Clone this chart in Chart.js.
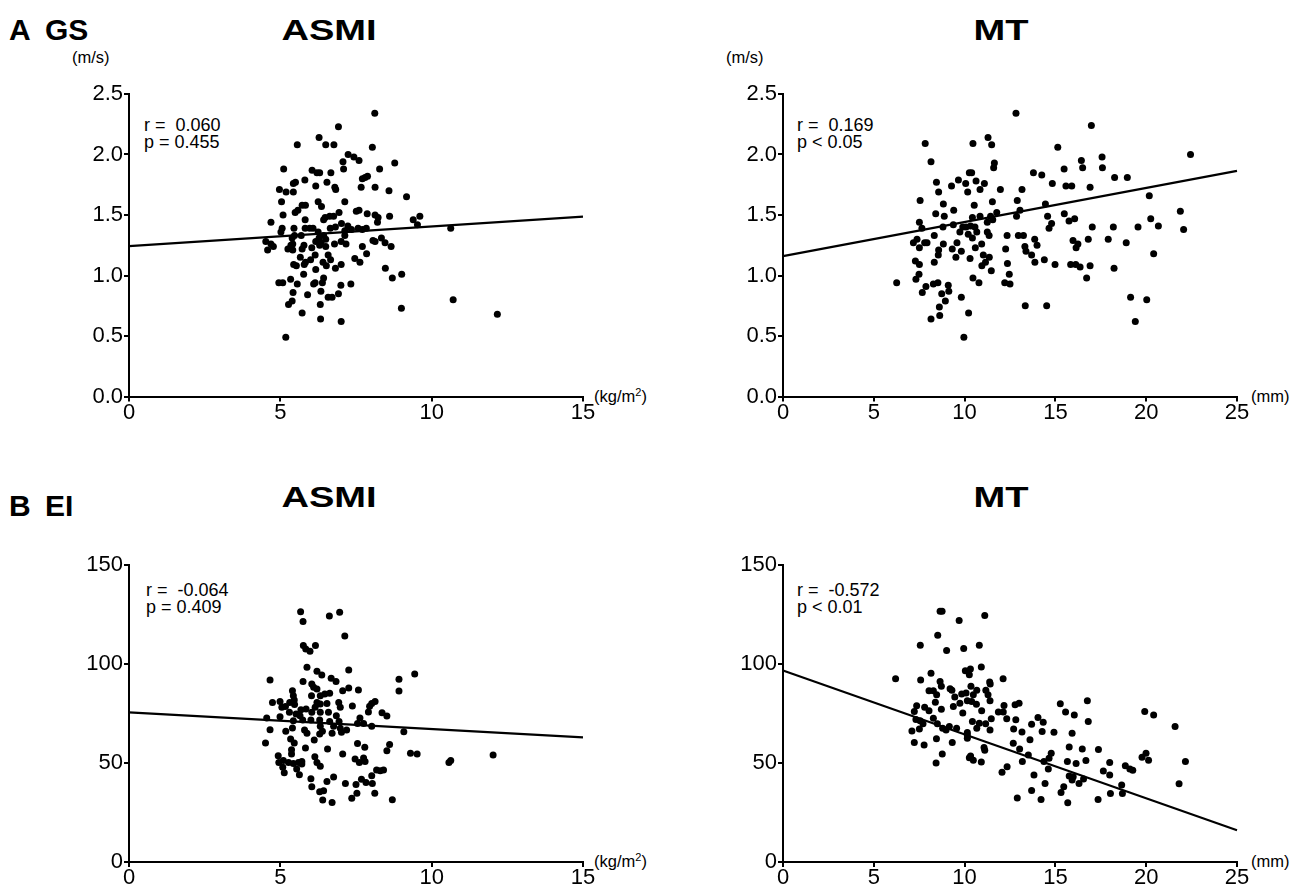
<!DOCTYPE html>
<html><head><meta charset="utf-8">
<script src="https://cdn.jsdelivr.net/npm/chart.js@4.4.1/dist/chart.umd.min.js"></script>
<style>
body{margin:0;width:1300px;height:890px;background:#fff;position:relative;font-family:"Liberation Sans",Arial,sans-serif;overflow:hidden}
.t{position:absolute;color:#000;white-space:nowrap;line-height:1}
.h{font-weight:bold;font-size:30px}
.c{width:200px;text-align:center;transform:scaleX(1.27);transform-origin:center top}
.u{font-size:16.5px}
.a{font-size:18px;line-height:16.5px}
.p{position:absolute}
sup{font-size:11px;vertical-align:6px;line-height:0}
</style></head><body>
<div class="t h" style="left:9px;top:15px">A</div>
<div class="t h" style="left:45px;top:15px">GS</div>
<div class="t h c" style="left:229px;top:15px">ASMI</div>
<div class="t h c" style="left:901px;top:15px">MT</div>
<div class="t h" style="left:9px;top:491px">B</div>
<div class="t h" style="left:45px;top:491px">EI</div>
<div class="t h c" style="left:229px;top:482px">ASMI</div>
<div class="t h c" style="left:901px;top:482px">MT</div>
<div class="t u" style="left:72px;top:49px">(m/s)</div>
<div class="t u" style="left:726px;top:49px">(m/s)</div>
<div class="t u" style="left:594px;top:388px">(kg/m<sup>2</sup>)</div>
<div class="t u" style="left:1251px;top:388px">(mm)</div>
<div class="t u" style="left:594px;top:853px">(kg/m<sup>2</sup>)</div>
<div class="t u" style="left:1251px;top:853px">(mm)</div>
<div class="t a" style="left:144px;top:117px">r =&nbsp;&nbsp;0.060<br>p = 0.455</div>
<div class="t a" style="left:797px;top:117px">r =&nbsp;&nbsp;0.169<br>p &lt; 0.05</div>
<div class="t a" style="left:146px;top:582px">r =&nbsp;&nbsp;-0.064<br>p = 0.409</div>
<div class="t a" style="left:797px;top:582px">r =&nbsp;&nbsp;-0.572<br>p &lt; 0.01</div>
<div class="p" style="left:0;top:80px;width:660px;height:350px"><canvas id="c1"></canvas></div>
<div class="p" style="left:650px;top:80px;width:650px;height:350px"><canvas id="c2"></canvas></div>
<div class="p" style="left:0;top:540px;width:660px;height:360px"><canvas id="c3"></canvas></div>
<div class="p" style="left:650px;top:540px;width:650px;height:360px"><canvas id="c4"></canvas></div>
<script>
// GS (m/s) vs ASMI (kg/m2)
const gsAsmi = [[8.12,2.34],[6.92,2.23],[6.28,2.14],[5.56,2.08],[6.50,2.08],[6.77,2.08],[8.04,2.06],[7.24,2.00],[7.43,1.98],[7.60,1.95],[7.07,1.94],[8.78,1.93],[5.11,1.88],[6.05,1.87],[6.21,1.85],[6.30,1.85],[6.67,1.85],[7.09,1.88],[8.28,1.88],[5.81,1.79],[5.43,1.76],[5.50,1.77],[6.54,1.77],[6.17,1.74],[6.80,1.73],[6.83,1.71],[7.67,1.73],[7.71,1.80],[7.80,1.81],[7.88,1.82],[8.13,1.73],[8.59,1.70],[4.97,1.71],[5.19,1.69],[5.43,1.69],[5.04,1.61],[9.17,1.65],[7.13,1.61],[5.72,1.58],[5.83,1.58],[6.25,1.61],[6.36,1.57],[5.09,1.50],[5.49,1.52],[5.58,1.54],[6.43,1.46],[6.48,1.48],[6.63,1.49],[6.76,1.49],[6.94,1.52],[7.51,1.53],[7.60,1.54],[7.87,1.51],[8.13,1.50],[8.23,1.48],[8.61,1.49],[8.21,1.44],[9.39,1.46],[9.61,1.49],[9.53,1.42],[10.63,1.39],[4.69,1.44],[5.06,1.39],[5.02,1.36],[5.45,1.39],[5.82,1.46],[5.82,1.39],[5.97,1.39],[6.08,1.39],[6.25,1.36],[6.28,1.31],[5.69,1.33],[5.47,1.33],[5.39,1.31],[6.65,1.39],[6.82,1.40],[7.02,1.43],[7.23,1.41],[7.13,1.37],[7.13,1.33],[7.35,1.38],[7.57,1.39],[7.84,1.39],[7.71,1.38],[6.43,1.33],[6.50,1.30],[6.35,1.27],[4.52,1.28],[4.69,1.26],[4.77,1.24],[4.58,1.21],[5.41,1.26],[5.35,1.25],[5.25,1.22],[5.41,1.21],[5.78,1.25],[5.72,1.22],[6.04,1.23],[6.17,1.28],[6.30,1.25],[6.50,1.24],[6.79,1.26],[7.01,1.28],[7.17,1.26],[8.06,1.29],[8.13,1.28],[8.34,1.31],[8.46,1.27],[8.66,1.24],[7.71,1.24],[7.85,1.18],[7.46,1.14],[7.63,1.11],[5.66,1.15],[5.83,1.11],[6.00,1.13],[6.15,1.17],[6.41,1.11],[6.58,1.17],[6.66,1.13],[6.52,1.08],[6.82,1.06],[7.01,1.09],[5.44,1.09],[5.53,1.08],[5.79,1.09],[6.17,1.05],[5.77,1.01],[8.47,1.06],[9.01,1.01],[8.70,0.98],[5.34,0.97],[4.95,0.94],[5.08,0.94],[5.56,0.93],[6.10,0.93],[6.15,0.94],[6.39,0.94],[6.43,0.98],[7.00,0.92],[7.33,0.93],[5.42,0.86],[6.34,0.87],[5.90,0.84],[6.58,0.82],[6.71,0.82],[6.92,0.85],[5.39,0.79],[5.27,0.76],[6.32,0.76],[10.71,0.80],[9.00,0.73],[5.72,0.69],[12.17,0.68],[6.33,0.64],[7.01,0.62],[5.18,0.49]];
const gsAsmiFit = [[0,1.243],[15,1.487]];

// GS (m/s) vs MT (mm)
const gsMt = [[12.83,2.34],[16.98,2.24],[11.29,2.14],[11.49,2.08],[10.46,2.09],[7.83,2.09],[8.15,1.94],[15.13,2.06],[22.44,2.00],[17.57,1.98],[17.59,1.89],[16.43,1.95],[16.50,1.89],[15.48,1.88],[11.64,1.93],[11.60,1.89],[10.39,1.85],[10.26,1.85],[13.79,1.85],[14.25,1.83],[18.26,1.81],[18.96,1.81],[8.45,1.77],[9.66,1.79],[9.28,1.74],[10.06,1.76],[10.63,1.78],[11.09,1.76],[10.85,1.71],[10.17,1.69],[8.57,1.69],[11.97,1.71],[13.16,1.71],[14.83,1.76],[15.58,1.74],[15.90,1.74],[16.91,1.73],[20.17,1.66],[7.55,1.62],[8.83,1.59],[11.53,1.61],[10.53,1.58],[12.90,1.62],[14.45,1.59],[9.40,1.54],[8.41,1.51],[8.88,1.49],[10.43,1.48],[10.85,1.49],[11.43,1.49],[11.77,1.52],[13.05,1.54],[12.86,1.49],[14.57,1.49],[15.49,1.51],[16.06,1.47],[15.75,1.45],[20.25,1.47],[21.88,1.53],[20.67,1.41],[22.06,1.38],[7.51,1.44],[7.65,1.39],[8.81,1.40],[9.38,1.42],[9.90,1.40],[9.74,1.36],[10.08,1.40],[10.33,1.41],[10.57,1.40],[10.67,1.36],[11.25,1.44],[11.55,1.46],[11.35,1.33],[10.20,1.34],[10.43,1.31],[11.25,1.36],[14.79,1.43],[14.65,1.39],[17.03,1.40],[18.19,1.40],[19.55,1.40],[8.33,1.33],[7.38,1.30],[7.18,1.27],[7.80,1.27],[7.51,1.23],[7.93,1.27],[8.83,1.26],[8.57,1.21],[8.55,1.17],[9.32,1.22],[9.58,1.27],[9.82,1.20],[9.52,1.15],[10.59,1.23],[10.94,1.26],[12.34,1.33],[12.96,1.33],[13.24,1.33],[12.26,1.22],[13.32,1.24],[13.38,1.20],[13.69,1.17],[13.86,1.30],[13.99,1.25],[15.97,1.29],[16.24,1.26],[16.14,1.23],[16.81,1.30],[17.91,1.30],[18.90,1.27],[20.41,1.18],[7.29,1.12],[7.51,1.09],[8.33,1.11],[10.30,1.14],[11.03,1.17],[11.36,1.15],[10.95,1.08],[11.15,1.11],[11.47,1.04],[12.36,1.10],[13.87,1.11],[14.39,1.13],[14.98,1.09],[15.84,1.09],[16.12,1.09],[16.36,1.07],[16.91,1.08],[18.23,1.06],[16.72,0.98],[7.32,0.97],[7.49,1.01],[6.26,0.94],[7.87,0.91],[8.28,0.93],[8.53,0.94],[9.10,0.92],[7.67,0.86],[8.74,0.85],[9.13,0.87],[8.94,0.79],[10.46,0.98],[10.79,0.94],[12.21,0.94],[12.50,0.93],[12.46,1.01],[9.82,0.82],[8.61,0.74],[8.63,0.67],[8.15,0.64],[10.22,0.69],[13.34,0.75],[14.52,0.75],[19.14,0.82],[20.03,0.80],[19.40,0.62],[9.96,0.49]];
const gsMtFit = [[0,1.16],[25,1.865]];

// EI vs ASMI (kg/m2)
const eiAsmi = [[5.67,126.4],[5.75,121.5],[6.62,124.2],[6.96,126.1],[7.13,114.1],[5.76,109.3],[5.84,107.6],[5.98,106.4],[6.16,109.3],[5.88,98.3],[6.21,96.3],[6.37,94.4],[7.26,97.0],[9.44,94.9],[4.66,91.9],[5.75,91.2],[6.04,89.9],[6.10,88.2],[6.68,92.8],[6.84,91.2],[8.92,92.3],[8.92,86.4],[5.40,86.5],[5.43,84.0],[5.46,81.8],[6.21,87.4],[6.32,84.0],[6.47,84.8],[6.63,85.2],[6.03,84.0],[7.06,86.5],[7.26,87.9],[7.58,86.9],[4.74,80.5],[4.99,81.1],[5.05,78.1],[5.17,78.5],[5.31,80.6],[5.47,79.5],[5.68,76.9],[5.85,77.3],[6.15,78.1],[6.21,80.6],[6.32,79.8],[6.54,80.1],[6.93,80.6],[6.98,78.1],[7.38,78.8],[7.95,78.6],[8.02,80.1],[8.13,81.1],[7.91,75.8],[8.36,75.4],[8.52,73.7],[5.30,75.6],[5.52,74.7],[5.65,73.9],[6.04,75.6],[6.32,75.6],[6.59,75.6],[6.85,73.9],[4.55,72.7],[4.99,73.4],[5.43,71.4],[5.74,71.7],[6.01,71.7],[6.30,71.7],[6.63,71.0],[6.94,71.0],[7.63,72.7],[4.66,66.8],[5.18,66.0],[5.40,67.7],[5.80,66.7],[5.88,65.0],[6.30,64.6],[6.39,66.0],[6.32,68.5],[6.71,65.0],[6.76,68.5],[6.98,67.5],[7.02,65.5],[7.19,66.7],[7.55,70.0],[7.75,70.0],[8.02,68.5],[9.08,65.8],[4.51,60.1],[5.34,62.1],[5.46,60.1],[6.12,61.6],[5.83,57.6],[5.37,56.7],[5.37,54.5],[6.56,57.1],[7.55,59.9],[7.79,57.9],[7.06,54.5],[8.61,59.3],[8.52,56.2],[9.30,54.9],[9.52,54.5],[4.93,53.7],[4.95,50.3],[5.10,51.2],[5.27,50.3],[5.43,49.8],[5.60,50.3],[5.71,50.8],[5.71,49.5],[6.14,53.2],[6.21,50.3],[6.32,48.3],[7.47,52.0],[7.61,50.3],[7.75,52.5],[7.80,50.7],[10.57,50.3],[10.63,51.2],[12.03,54.0],[5.08,47.8],[5.13,45.1],[5.54,47.0],[5.63,44.1],[6.01,42.1],[6.04,38.0],[6.30,35.5],[6.43,36.0],[6.40,31.3],[6.71,30.0],[6.54,40.7],[6.76,42.9],[7.15,39.7],[7.36,32.2],[7.50,39.1],[7.53,34.7],[7.68,41.8],[7.83,40.2],[8.04,39.7],[8.02,43.6],[8.18,46.5],[8.30,46.1],[8.41,46.5],[8.12,34.7],[8.70,31.5]];
const eiAsmiFit = [[0,75.6],[15,62.9]];

// EI vs MT (mm)
const eiMt = [[8.65,126.7],[8.76,126.7],[9.70,122.0],[11.11,124.5],[8.52,114.5],[7.56,109.5],[9.01,106.8],[9.95,107.8],[10.81,109.5],[10.92,98.5],[10.04,96.6],[10.32,97.5],[10.26,94.6],[6.20,92.6],[7.58,91.9],[8.15,95.3],[8.65,91.2],[8.72,88.7],[12.12,92.6],[11.38,90.9],[11.41,89.9],[8.04,86.5],[8.28,86.5],[8.46,84.5],[9.20,87.5],[9.30,86.7],[9.46,83.3],[9.84,84.8],[10.08,85.3],[10.35,88.7],[10.67,86.7],[10.48,84.5],[11.17,86.8],[11.29,84.5],[11.40,81.4],[10.15,81.4],[10.39,81.1],[9.74,80.2],[9.38,78.5],[10.65,79.7],[8.39,80.7],[7.36,78.9],[7.80,78.2],[7.23,76.0],[8.04,76.4],[8.72,77.2],[9.90,75.2],[10.94,76.4],[11.86,75.7],[12.17,79.1],[12.13,75.7],[12.78,79.4],[13.00,80.2],[15.27,79.9],[16.76,81.4],[15.56,75.7],[16.04,74.3],[19.92,76.0],[20.41,74.3],[7.32,72.0],[7.55,71.3],[7.51,67.2],[7.10,66.2],[7.71,69.8],[8.28,72.6],[8.50,69.8],[8.79,67.6],[8.98,66.7],[9.16,68.4],[9.56,67.6],[10.43,70.9],[10.67,67.6],[10.81,70.1],[11.16,69.8],[11.40,66.7],[11.47,72.3],[10.15,65.4],[10.15,62.5],[10.15,64.2],[12.32,72.3],[12.82,71.8],[12.70,67.2],[13.16,65.7],[13.69,69.6],[14.04,73.0],[14.33,70.6],[14.27,65.9],[14.92,65.5],[15.92,65.0],[16.81,70.9],[21.59,68.4],[7.23,60.3],[7.77,59.1],[8.45,62.2],[9.32,60.3],[12.68,60.0],[13.60,61.7],[8.77,54.6],[8.43,50.0],[10.33,53.5],[10.26,52.7],[10.48,51.4],[10.92,50.5],[11.11,56.4],[11.07,57.8],[13.03,57.1],[13.51,54.1],[13.18,50.7],[12.34,48.1],[12.06,45.3],[14.37,50.7],[14.65,52.4],[14.77,54.9],[14.61,47.0],[15.76,58.1],[16.48,57.1],[17.37,56.8],[15.66,50.8],[16.14,49.7],[16.68,51.2],[17.99,50.3],[19.77,52.9],[19.99,54.9],[20.13,51.4],[22.16,50.7],[18.85,48.6],[19.10,47.0],[19.26,46.3],[17.64,45.9],[17.99,43.9],[13.82,43.9],[15.76,43.4],[15.98,43.1],[15.92,41.4],[16.30,39.7],[16.55,41.9],[14.43,39.7],[15.46,38.0],[15.31,35.1],[13.69,36.1],[12.90,32.3],[14.21,31.6],[15.68,29.9],[17.35,31.6],[18.03,34.6],[18.65,38.9],[18.69,34.6],[21.81,39.5]];
const eiMtFit = [[0,96.7],[25,16.0]];

// tick settings
const gsTicks = {min:0, max:2.5, step:0.5, dec:1};
const eiTicks = {min:0, max:150, step:50, dec:0};
const asmiTicks = {min:0, max:15, step:5};
const mtTicks = {min:0, max:25, step:5};

const FONT = '"Liberation Sans", Arial, sans-serif';
const toPts = a => a.map(p => ({x:p[0], y:p[1]}));

function axisBase(){
  return {
    grid:{display:true, drawOnChartArea:false, drawTicks:true, tickLength:5, color:'#000', lineWidth:2},
    border:{display:true, color:'#000', width:2},
  };
}

function make(id, pts, fit, xt, yt, yw, pad, xh){
  const xs = Object.assign(axisBase(), {
    type:'linear', min:xt.min, max:xt.max,
    ticks:{stepSize:xt.step, color:'#000', padding:0, font:{family:FONT, size:22, lineHeight:1}, maxRotation:0, autoSkip:false},
    afterFit(s){ s.height = xh; }
  });
  const ys = Object.assign(axisBase(), {
    type:'linear', min:yt.min, max:yt.max,
    ticks:{stepSize:yt.step, color:'#000', padding:1, font:{family:FONT, size:22, lineHeight:1},
      callback:v => Number(v).toFixed(yt.dec)},
    afterFit(s){ s.width = yw; }
  });
  new Chart(document.getElementById(id), {
    type:'scatter',
    data:{datasets:[
      {data:toPts(pts), pointRadius:3.5, pointHoverRadius:3.5, backgroundColor:'#000', borderWidth:0, showLine:false},
      {data:toPts(fit), type:'line', showLine:true, pointRadius:0, borderColor:'#000', borderWidth:2.2, fill:false}
    ]},
    options:{
      responsive:true, maintainAspectRatio:false, animation:false,
      layout:{padding:{top:pad[0], right:pad[1], bottom:0, left:0}},
      plugins:{legend:{display:false}, tooltip:{enabled:false}},
      scales:{x:xs, y:ys},
      clip:false
    }
  });
}

make('c1', gsAsmi, gsAsmiFit, asmiTicks, gsTicks, 129, [14, 77], 33.5);
make('c2', gsMt, gsMtFit, mtTicks, gsTicks, 133, [14, 63], 33.5);
make('c3', eiAsmi, eiAsmiFit, asmiTicks, eiTicks, 129, [25, 77], 38);
make('c4', eiMt, eiMtFit, mtTicks, eiTicks, 133, [25, 63], 38);
</script>
</body></html>
